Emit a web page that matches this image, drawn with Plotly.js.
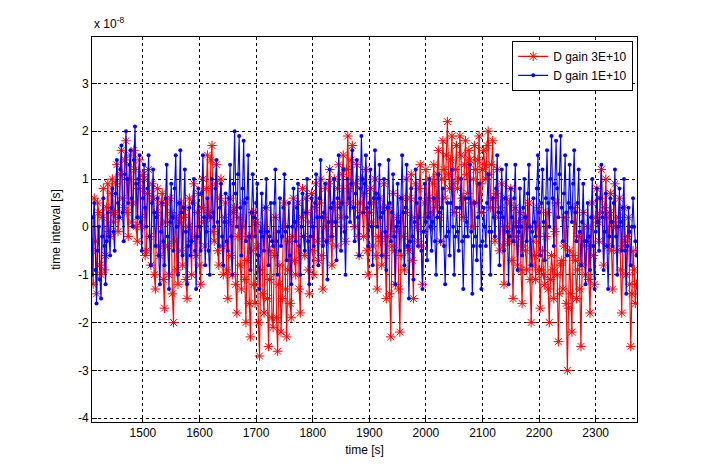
<!DOCTYPE html>
<html>
<head>
<meta charset="utf-8">
<script src="https://cdn.plot.ly/plotly-3.0.1.min.js"></script>
<style>html,body{margin:0;padding:0;background:#fff;}#chart{width:704px;height:474px;}</style>
</head>
<body>
<div id="chart"></div>
<script>
// time axis start / step (s)
const tStart = 1410;
const tStep = 2;

// values in units of 1e-8 s
const redValues = [
 -0.5, -1.2, 0.6, -0.3, -1.4, 0.5, 0.3, -0.8, -1.0, 0.2, 0.8, -0.9, -0.6, 0.4, 0.9, -0.1, -0.2, 0.7, 1.0, 0.1,
 0.3, 0.9, 1.3, -0.1, 0.2, 1.1, 1.6, 0.6, 0.4, 1.4, 1.8, 0.3, -0.2, 1.0, 1.5, 0.1, 0.5, 1.6, 1.2, 0.0,
 -0.3, 0.8, 1.4, 0.2, 0.0, 1.1, 1.0, -0.6, -0.5, 0.7, 1.2, -0.2, -0.8, 0.9, 0.6, -1.0, -1.3, 0.3, 0.8, -0.4,
 -0.6, 0.5, 0.7, -1.1, -1.7, 0.1, 0.5, -0.4, -1.0, 0.6, 0.3, -1.4, -2.0, -0.3, 0.2, -0.9, -1.2, 0.1, 0.5, -0.5,
 -0.8, 0.2, 0.4, -1.1, -1.5, 0.0, 0.6, -0.3, -1.0, 0.5, 0.9, -0.2, -0.6, 0.3, 0.7, -0.8, -1.2, 0.4, 1.0, 0.1,
 -0.4, 0.8, 1.5, 0.3, 0.2, 1.4, 1.7, -0.1, -0.3, 0.9, 1.3, -0.5, -0.8, 0.6, 1.0, -0.4, -1.0, 0.2, 0.5, -0.9,
 -1.5, 0.1, 0.6, -0.6, -1.0, 0.3, 0.4, -1.2, -1.8, -0.2, 0.2, -0.8, -1.3, 0.0, 0.5, -1.1, -2.0, -0.7, -0.2, -1.6,
 -2.3, -0.5, 0.3, -1.2, -1.6, 0.1, -0.4, -2.0, -2.7, -0.9, 0.0, -1.4, -1.8, -0.1, 0.4, -1.5, -2.5, -1.1, -0.5, -1.9,
 -2.1, -0.6, 0.2, -1.9, -2.6, -1.2, -0.8, -2.2, -1.5, 0.0, 0.5, -1.3, -2.3, -0.9, -0.3, -1.6, -1.9, -0.2, 0.6, -0.7,
 -1.0, 0.1, 0.5, -1.3, -1.8, 0.2, 0.8, -0.2, -0.6, 0.6, 0.3, -0.9, -1.4, 0.1, 0.7, -0.5, -1.0, 0.4, 0.9, -0.3,
 -0.7, 0.5, 1.0, -0.6, -1.3, 0.2, 0.8, 0.0, -0.3, 0.9, 1.2, -0.2, -0.8, 0.4, 1.0, 0.1, -0.4, 0.8, 1.3, 0.5,
 0.2, 1.1, 1.5, 0.0, -0.3, 1.2, 1.9, 0.8, 0.5, 1.4, 1.7, 0.4, 0.0, 0.9, 1.3, -0.2, -0.6, 0.5, 1.0, 0.3,
 -0.2, 0.7, 1.2, -0.5, -1.0, 0.3, 0.8, 0.1, -0.4, 0.5, 1.0, -0.6, -1.3, -0.2, 0.6, -0.3, -0.8, 0.4, 0.9, -0.6,
 -1.5, -0.2, 0.4, -1.4, -2.3, -0.4, 0.7, -0.5, -1.2, -0.1, 0.2, -1.3, -2.2, -0.6, 0.6, -0.2, -0.9, 0.3, 1.0, -0.4,
 -0.5, 0.6, 1.1, -0.7, -1.5, 0.2, 0.9, 0.0, -0.3, 0.8, 1.3, -0.4, -1.2, -0.1, 0.5, 1.2, 0.2, 0.6, 1.0, 0.3,
 0.0, 0.9, 1.3, 0.6, 0.4, 1.1, 1.6, 0.2, -0.3, 1.0, 1.8, 1.2, 0.6, 1.5, 2.2, 1.1, 0.8, 1.4, 1.9, 0.9,
 0.3, 1.2, 1.7, 0.8, 1.0, 1.9, 1.5, 0.6, 0.2, 1.3, 1.8, 1.1, 0.7, 1.6, 1.4, 0.5, 0.0, 1.0, 1.7, 1.2,
 0.5, 1.4, 1.9, 0.9, 0.3, 1.2, 1.6, 1.3, 1.0, 1.7, 2.0, 1.1, 0.4, 1.3, 1.8, 0.6, -0.3, 0.7, 1.2, 0.2,
 -0.5, 0.4, 0.9, -0.4, -1.2, 0.0, 0.6, -0.1, -0.3, 0.5, 0.8, -0.7, -1.5, -0.3, 0.4, -0.2, -0.8, 0.1, 0.3, -0.9,
 -1.6, -0.4, 0.2, -0.5, -0.9, 0.0, 0.5, -1.1, -2.0, -0.8, -0.3, -0.6, -1.1, 0.0, 0.4, -0.9, -1.7, -0.9, -0.5, -1.0,
 -1.2, -0.2, 0.3, -1.3, -2.0, -1.1, -0.6, -0.9, -1.5, -0.1, 0.5, -1.0, -2.4, -1.4, -0.8, -0.7, -1.3, -0.4, 0.2, -1.6,
 -3.0, -1.7, -0.5, -1.4, -2.2, -0.6, 0.4, -0.7, -1.5, -0.9, -0.2, -1.3, -2.5, -0.8, 0.3, -0.4, -1.0, -0.3, 0.0, -1.1,
 -1.8, -0.4, 0.5, -0.6, -1.2, 0.2, 0.8, 0.1, -0.3, 0.6, 1.2, 0.3, -0.8, 0.4, 1.0, 0.2, -0.4, 0.3, 0.7, -0.5,
 -1.3, 0.1, 0.9, 0.0, -0.5, 0.2, 0.6, -0.9, -1.8, -0.4, 0.4, -0.3, -1.0, -0.2, 0.2, -1.2, -2.5, -1.4, -0.5, -0.9,
 -1.6, -1.2
];

const blueValues = [
 -1.0, 0.2, 0.5, -0.9, -1.6, -0.5, 0.0, -1.1, -1.5, -0.2, 0.6, -0.4, -1.2, -0.3, 0.3, -0.2, -0.6, 0.4, 0.8, -0.1,
 -0.5, 0.7, 1.4, 0.5, 0.2, 1.2, 1.7, 0.3, -0.3, 1.1, 2.0, 1.0, 0.5, 1.3, 1.6, 0.6, 0.0, 1.4, 2.1, 0.9,
 0.2, 1.0, 1.5, 0.1, -0.5, 0.6, 1.3, 0.4, 0.0, 0.8, 1.5, -0.2, -0.8, 0.5, 1.2, 0.3, -0.4, 0.2, 0.6, -0.6,
 -1.2, -0.1, 0.5, -0.3, -0.8, 0.6, 1.3, -0.2, -1.3, 0.1, 0.9, 0.2, -0.5, 0.8, 1.5, 0.0, -1.0, 0.5, 1.6, 0.3,
 -0.6, 0.4, 1.2, -0.1, -1.2, -0.4, 0.4, -0.6, -0.3, 0.5, 1.0, -0.5, -1.3, -0.2, 0.8, 0.0, -0.5, 0.7, 1.5, 0.2,
 -0.8, -0.1, 0.6, -0.5, -1.0, 0.2, 1.0, 0.3, 0.0, 0.8, 1.4, 0.1, -0.4, 0.4, 0.9, -0.2, -0.8, 0.1, 0.7, -0.3,
 -0.5, 0.6, 1.3, -0.2, -1.0, 0.9, 2.0, 0.7, 0.0, 1.1, 1.9, 0.4, -0.6, 0.8, 1.8, 0.5, -0.3, 0.6, 1.5, -0.2,
 -0.9, 0.3, 1.1, 0.2, -0.2, 0.5, 0.9, -0.6, -1.3, -0.1, 0.7, -0.2, -0.5, 0.4, 1.0, -0.1, -0.8, -0.2, 0.5, -0.3,
 -0.4, 0.5, 1.2, -0.3, -1.0, -0.1, 0.6, -0.4, -0.2, 0.4, 1.1, -0.1, -0.7, 0.0, 0.5, -0.6, -1.2, 0.0, 0.8, 0.1,
 -0.3, 0.4, 0.9, -0.4, -1.0, 0.0, 0.7, -0.2, -0.5, 0.3, 1.0, -0.3, -1.2, -0.2, 0.6, 0.0, -0.4, 0.5, 1.1, 0.2,
 -0.8, 0.6, 1.4, 0.2, -0.4, 0.3, 0.9, -0.3, -1.1, 0.1, 1.2, 0.4, -0.2, 0.5, 1.0, 0.1, -0.7, 0.6, 1.5, 0.4,
 -0.5, 0.5, 1.2, -0.1, -1.0, 0.2, 1.0, 0.6, 0.1, 0.9, 1.6, 0.4, -0.3, 0.7, 1.4, 0.2, -0.6, 0.8, 1.9, 1.0,
 0.3, 0.9, 1.5, 0.4, -0.4, 0.5, 1.2, 0.0, -0.8, 0.6, 1.6, 0.7, 0.0, 0.6, 1.3, 0.2, -0.6, 0.3, 1.0, -0.1,
 -0.9, 0.4, 1.4, 0.5, -0.3, 0.3, 1.1, -0.2, -1.2, 0.0, 0.9, 0.1, -0.5, 0.6, 1.5, 0.3, -0.8, 0.4, 1.3, -0.4,
 -1.5, -0.3, 0.8, -0.2, -1.1, 0.1, 1.2, 0.5, -0.4, 0.2, 0.6, -0.5, -1.3, -0.1, 0.9, 0.1, -0.7, 0.2, 1.0, 0.0,
 -0.5, 0.1, 0.6, -0.3, -1.0, 0.2, 1.1, 0.3, -0.3, 0.4, 0.8, -0.4, -1.2, -0.2, 0.5, -0.1, -0.6, 0.5, 1.2, 0.0,
 -1.0, -0.2, 0.4, -0.1, -0.5, 0.4, 1.0, -0.3, -1.3, -0.2, 0.6, 0.1, -0.2, 0.6, 1.3, -0.1, -1.4, -0.4, 0.5, -0.2,
 -0.7, 0.2, 0.9, -0.4, -1.3, -0.3, 0.4, 0.0, -0.4, 0.5, 1.1, -0.1, -1.0, -0.1, 0.6, 0.2, -0.2, 0.8, 1.5, 0.3,
 -0.8, 0.3, 1.2, 0.2, -0.5, 0.6, 1.3, -0.1, -1.2, -0.2, 0.8, 0.2, -0.3, 0.6, 1.3, 0.0, -0.9, -0.1, 0.8, 0.0,
 -0.6, 0.4, 1.0, 0.2, -0.3, 0.7, 1.3, 0.0, -0.8, -0.1, 0.6, 0.1, -0.2, 0.8, 1.5, 0.3, -0.6, 0.5, 1.2, 0.1,
 -0.7, 0.6, 1.6, 0.5, 0.0, 1.0, 1.9, 0.6, -0.4, 0.9, 1.8, 0.8, 0.2, 1.1, 1.9, 0.4, -0.3, 0.7, 1.5, 0.3,
 -0.6, 0.5, 1.3, 0.4, 0.1, 0.9, 1.6, 0.3, -0.3, 0.5, 1.2, -0.1, -0.8, 0.1, 0.9, -0.3, -1.2, -0.3, 0.5, -0.2,
 -0.9, 0.2, 1.0, -0.4, -1.3, -0.1, 0.8, 0.1, -0.5, 0.6, 1.3, 0.2, -0.9, -0.1, 0.7, -0.4, -1.3, -0.2, 0.6, 0.1,
 -0.4, 0.5, 1.2, -0.2, -1.0, 0.0, 0.8, 0.1, -0.5, 0.4, 1.0, -0.5, -1.4, -0.4, 0.4, -0.1, -0.8, 0.0, 0.6, 0.0,
 -0.3, -0.6
];

const seriesNames = ['D gain 3E+10', 'D gain 1E+10'];
const xTicks = [1500, 1600, 1700, 1800, 1900, 2000, 2100, 2200, 2300];
const yTicks = [-4, -3, -2, -1, 0, 1, 2, 3];

const times = redValues.map((_, i) => tStart + i * tStep);

const font = {family: 'Liberation Sans, Arial, sans-serif', size: 12, color: '#000'};

const traces = [
  {
    x: times, y: redValues, name: seriesNames[0], type: 'scatter', mode: 'lines+markers',
    line: {color: '#ff0000', width: 1.1},
    marker: {symbol: 'asterisk-open', size: 8, color: '#ff0000', line: {color: '#ff0000', width: 1}}
  },
  {
    x: times, y: blueValues, name: seriesNames[1], type: 'scatter', mode: 'lines+markers',
    line: {color: '#0000ff', width: 1.1},
    marker: {symbol: 'circle', size: 4, color: '#0000ff'}
  }
];

const axisCommon = {
  showline: true, linecolor: '#000', linewidth: 1, mirror: true,
  ticks: 'inside', ticklen: 5, tickcolor: '#000',
  showgrid: true, gridcolor: '#000', gridwidth: 1, griddash: '3px,3px',
  zeroline: false, tickfont: font
};

const layout = {
  width: 704, height: 474,
  margin: {l: 92, r: 67, t: 37, b: 52},
  paper_bgcolor: '#fff', plot_bgcolor: '#fff',
  font: font,
  showlegend: true,
  legend: {
    x: 0.993, y: 0.99, xanchor: 'right', yanchor: 'top',
    bgcolor: '#fff', bordercolor: '#000', borderwidth: 1,
    font: font, tracegroupgap: 0
  },
  xaxis: Object.assign({}, axisCommon, {
    range: [1410, 2373], tickvals: xTicks, ticktext: xTicks.map(String),
    title: {text: 'time [s]', font: font, standoff: 6}
  }),
  yaxis: Object.assign({}, axisCommon, {
    range: [-4.08, 3.97], tickvals: yTicks, ticktext: yTicks.map(String),
    title: {text: 'time interval [s]', font: font, standoff: 14}
  }),
  annotations: [{
    xref: 'paper', yref: 'paper', x: 0, y: 1, xanchor: 'left', yanchor: 'bottom',
    yshift: 4, showarrow: false, text: 'x 10<sup>-8</sup>', font: font
  }]
};

Plotly.newPlot('chart', traces, layout, {displayModeBar: false, staticPlot: true});
</script>
</body>
</html>
